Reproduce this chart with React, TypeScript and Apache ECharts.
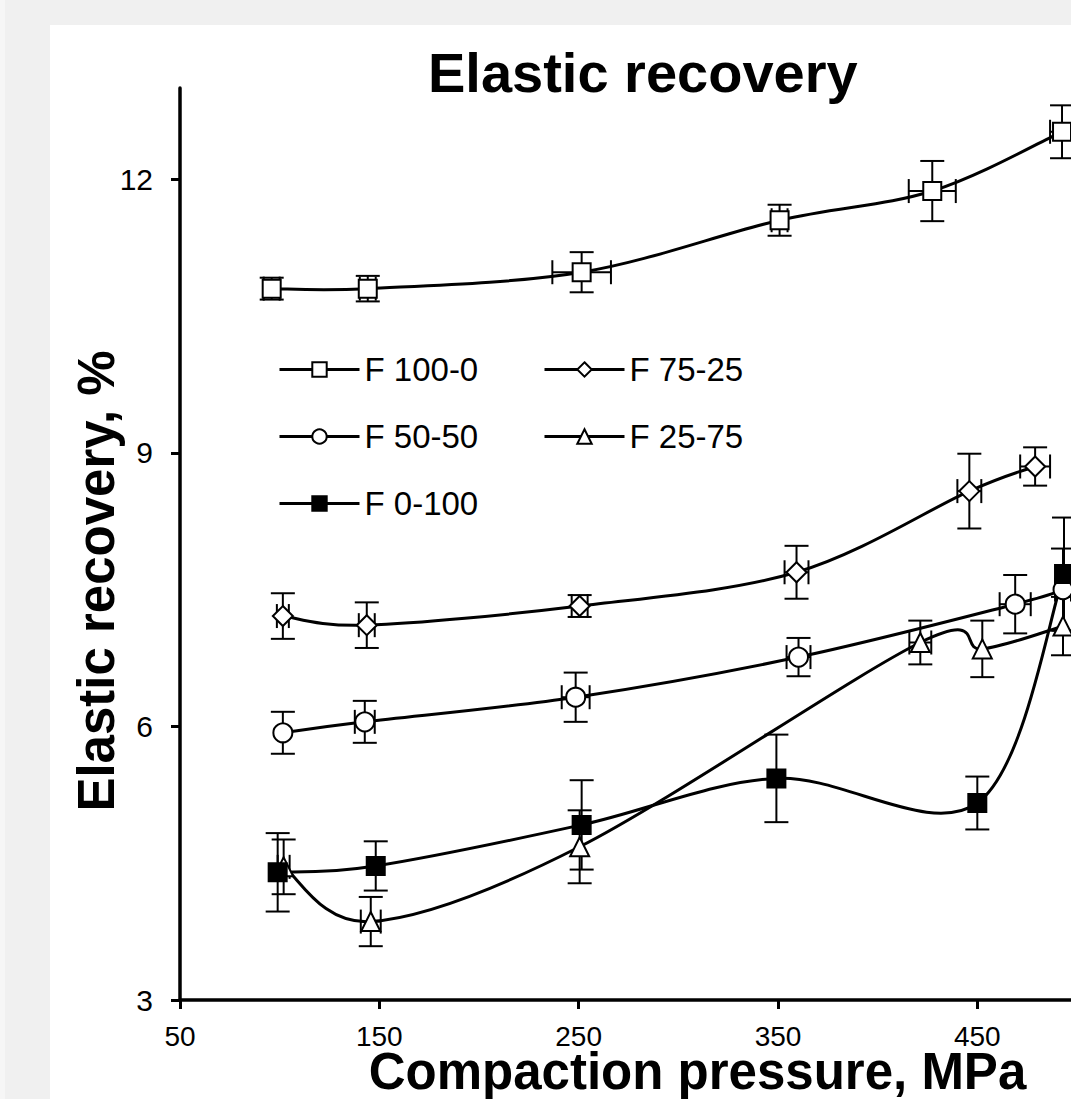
import React, { useEffect, useRef } from 'react';
import * as echarts from 'echarts';

// ---------- data ----------
const xTicks = [50, 150, 250, 350, 450];
const yTicks = [3, 6, 9, 12];

const f100X = [96, 144.2, 251.5, 350.8, 427.4, 492.5];
const f100Y = [10.8, 10.8, 10.98, 11.55, 11.87, 12.52];
const f100YErr = [0.12, 0.14, 0.22, 0.17, 0.33, 0.29];
const f100XErr = [4, 4, 14.7, 4, 11.8, 6];

const f75X = [101.6, 143.7, 250.5, 359.3, 446, 479];
const f75Y = [7.21, 7.11, 7.32, 7.69, 8.58, 8.85];
const f75YErr = [0.25, 0.25, 0.12, 0.29, 0.41, 0.21];
const f75XErr = [3, 4, 4, 6, 6, 7.5];

const f50X = [101.6, 142.7, 248.5, 360.3, 469, 493];
const f50Y = [5.93, 6.05, 6.32, 6.76, 7.34, 7.5];
const f50YErr = [0.23, 0.23, 0.27, 0.21, 0.32, 0.45];
const f50XErr = [0, 5, 7, 6, 7.8, 4];

const f25X = [102, 145.7, 250.5, 421.4, 452.5, 493];
const f25Y = [4.46, 3.86, 4.68, 6.92, 6.85, 7.1];
const f25YErr = [0.3, 0.27, 0.4, 0.24, 0.31, 0.32];
const f25XErr = [3, 5, 0, 5.5, 0, 0];

const f0X = [99, 148.2, 251.5, 349.2, 450, 493.5];
const f0Y = [4.4, 4.47, 4.92, 5.43, 5.16, 7.67];
const f0YErr = [0.43, 0.27, 0.49, 0.48, 0.29, 0.62];
const f0XErr = [0, 0, 0, 0, 0, 0];

const FONT = '"Liberation Sans", Arial, sans-serif';

// markers (and legend entries) of a series; its curve is drawn by smoothCurve()
function markerSeries(name: string, xs: number[], ys: number[], symbol: string, size: number, filled: boolean) {
  return {
    name,
    type: 'line',
    data: xs.map((x, i) => [x, ys[i]]),
    symbol,
    symbolSize: size,
    showSymbol: true,
    lineStyle: { color: '#000', width: 3, opacity: 0 },
    itemStyle: { color: filled ? '#000' : '#fff', borderColor: '#000', borderWidth: 2 },
    emphasis: { disabled: true },
    z: 4,
  };
}

// Excel-like smoothed line (Catmull-Rom bezier segments), positions from the axes
function smoothCurve(xs: number[], ys: number[]) {
  const n = xs.length;
  return {
    type: 'custom',
    silent: true,
    z: 2,
    data: xs.map((x, i) => [x, ys[i]]),
    encode: { x: 0, y: 1 },
    renderItem: (params: any, api: any) => {
      const i = params.dataIndex;
      if (i >= n - 1) return null;
      const p = (k: number) => {
        const j = Math.max(0, Math.min(n - 1, k));
        return api.coord([xs[j], ys[j]]);
      };
      const p0 = p(i - 1), p1 = p(i), p2 = p(i + 1), p3 = p(i + 2);
      const t = 1 / 6;
      return {
        type: 'bezierCurve',
        shape: {
          x1: p1[0], y1: p1[1],
          cpx1: p1[0] + (p2[0] - p0[0]) * t, cpy1: p1[1] + (p2[1] - p0[1]) * t,
          cpx2: p2[0] - (p3[0] - p1[0]) * t, cpy2: p2[1] - (p3[1] - p1[1]) * t,
          x2: p2[0], y2: p2[1],
        },
        style: { stroke: '#000', lineWidth: 3, fill: null },
      };
    },
  };
}

function errorSeries(xs: number[], ys: number[], xe: number[], ye: number[]) {
  return {
    type: 'custom',
    silent: true,
    z: 3,
    data: xs.map((x, i) => [x, ys[i], xe[i], ye[i]]),
    encode: { x: 0, y: 1 },
    renderItem: (_params: any, api: any) => {
      const x = api.value(0);
      const y = api.value(1);
      const ex = api.value(2);
      const ey = api.value(3);
      const cap = 12;
      const style = { stroke: '#000', lineWidth: 2 };
      const children: any[] = [];
      if (ey > 0) {
        const t = api.coord([x, y + ey]);
        const b = api.coord([x, y - ey]);
        children.push({ type: 'line', shape: { x1: t[0], y1: t[1], x2: b[0], y2: b[1] }, style });
        children.push({ type: 'line', shape: { x1: t[0] - cap, y1: t[1], x2: t[0] + cap, y2: t[1] }, style });
        children.push({ type: 'line', shape: { x1: b[0] - cap, y1: b[1], x2: b[0] + cap, y2: b[1] }, style });
      }
      if (ex > 0) {
        const l = api.coord([x - ex, y]);
        const r = api.coord([x + ex, y]);
        children.push({ type: 'line', shape: { x1: l[0], y1: l[1], x2: r[0], y2: r[1] }, style });
        children.push({ type: 'line', shape: { x1: l[0], y1: l[1] - cap, x2: l[0], y2: l[1] + cap }, style });
        children.push({ type: 'line', shape: { x1: r[0], y1: r[1] - cap, x2: r[0], y2: r[1] + cap }, style });
      }
      return { type: 'group', children };
    },
  };
}

const legendCommon = {
  orient: 'vertical',
  top: 328,
  padding: 0,
  itemWidth: 80,
  itemHeight: 18,
  itemGap: 34,
  selectedMode: false,
  lineStyle: { color: '#000', width: 3, opacity: 1, type: 'solid' },
  textStyle: { fontFamily: FONT, fontSize: 33, color: '#000' },
};

const option = {
  animation: false,
  backgroundColor: '#fff',
  title: {
    text: 'Elastic recovery',
    left: 378,
    top: 19,
    padding: 0,
    textStyle: { fontFamily: FONT, fontSize: 56, fontWeight: 'bold', color: '#000' },
  },
  legend: [
    { ...legendCommon, left: 228, data: ['F 100-0', 'F 50-50', 'F 0-100'] },
    { ...legendCommon, left: 493, data: ['F 75-25', 'F 25-75'] },
  ],
  grid: { left: 130, right: 0, top: 63, height: 912, containLabel: false, outerBoundsMode: 'none' },
  xAxis: {
    type: 'value',
    min: 50,
    max: 497,
    interval: 100,
    name: 'Compaction pressure, MPa',
    nameLocation: 'middle',
    nameGap: 50,
    nameMoveOverlap: false,
    nameTextStyle: {
      fontFamily: FONT, fontSize: 51, lineHeight: 42, fontWeight: 'bold', color: '#000', padding: [0, 0, 0, 144],
    },
    axisLine: { show: true, onZero: false, lineStyle: { color: '#000', width: 3.5 } },
    axisTick: { show: true, length: 9, customValues: xTicks, lineStyle: { color: '#000', width: 3 } },
    axisLabel: { customValues: xTicks, margin: 25, lineHeight: 22, fontFamily: FONT, fontSize: 28, color: '#000' },
    splitLine: { show: false },
  },
  yAxis: {
    type: 'value',
    min: 3,
    max: 13,
    interval: 3,
    name: 'Elastic recovery, %',
    nameLocation: 'middle',
    nameRotate: 90,
    nameGap: 58,
    nameMoveOverlap: false,
    nameTextStyle: { fontFamily: FONT, fontSize: 51, fontWeight: 'bold', color: '#000', padding: [0, 74, 0, 0] },
    axisLine: { show: true, onZero: false, lineStyle: { color: '#000', width: 3.5 } },
    axisTick: { show: true, length: 9, customValues: yTicks, lineStyle: { color: '#000', width: 3 } },
    axisLabel: { customValues: yTicks, margin: 27, fontFamily: FONT, fontSize: 30, color: '#000' },
    splitLine: { show: false },
  },
  series: [
    smoothCurve(f100X, f100Y),
    smoothCurve(f75X, f75Y),
    smoothCurve(f50X, f50Y),
    smoothCurve(f25X, f25Y),
    smoothCurve(f0X, f0Y),
    errorSeries(f100X, f100Y, f100XErr, f100YErr),
    errorSeries(f75X, f75Y, f75XErr, f75YErr),
    errorSeries(f50X, f50Y, f50XErr, f50YErr),
    errorSeries(f25X, f25Y, f25XErr, f25YErr),
    errorSeries(f0X, f0Y, f0XErr, f0YErr),
    markerSeries('F 100-0', f100X, f100Y, 'rect', 18, false),
    markerSeries('F 75-25', f75X, f75Y, 'diamond', 20, false),
    markerSeries('F 50-50', f50X, f50Y, 'circle', 19, false),
    markerSeries('F 25-75', f25X, f25Y, 'triangle', 19, false),
    markerSeries('F 0-100', f0X, f0Y, 'rect', 18, true),
  ],
};

export default function App() {
  const ref = useRef<HTMLDivElement>(null);
  useEffect(() => {
    if (!ref.current) return;
    const chart = echarts.init(ref.current, null, { renderer: 'svg' });
    chart.setOption(option as any);
    return () => chart.dispose();
  }, []);
  return (
    <div style={{ position: 'fixed', left: 0, top: 0, width: 1071, height: 1099, background: '#f0f0f0', overflow: 'hidden' }}>
      <div style={{ position: 'absolute', left: 0, top: 0, width: 5, height: 1099, background: '#f6f6f6' }} />
      <div ref={ref} style={{ position: 'absolute', left: 50, top: 25, width: 1021, height: 1074, background: '#fff' }} />
    </div>
  );
}
